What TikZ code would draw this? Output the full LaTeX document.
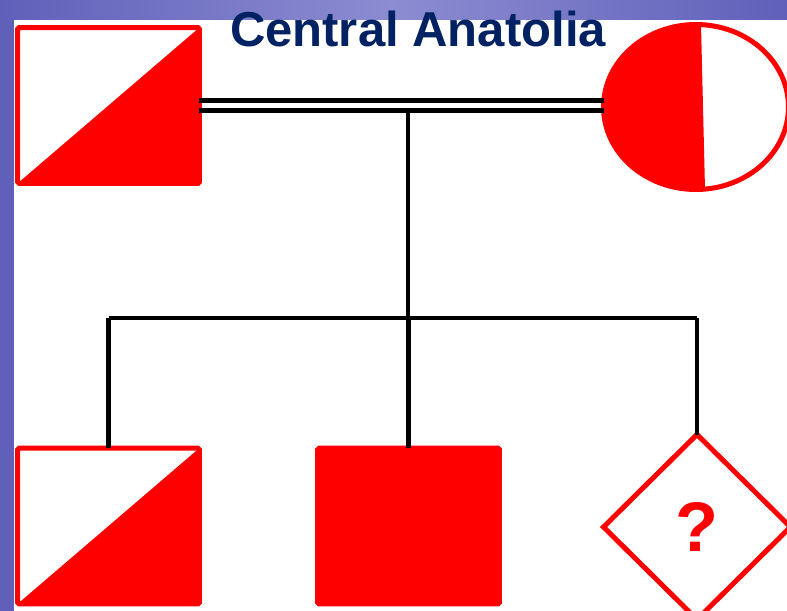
\documentclass[tikz,border=0pt]{standalone}
\usepackage{fontspec}
\setmainfont{Liberation Sans}
\usepackage{tikz}
\usetikzlibrary{shapes.geometric, positioning, calc}
\definecolor{pedred}{RGB}{255, 0, 0}
\definecolor{titlenavy}{RGB}{0, 34, 98}
\definecolor{slideblue}{RGB}{96, 96, 186}
\definecolor{slidelight}{RGB}{140, 140, 210}

\begin{document}
\begin{tikzpicture}[x=0.02cm, y=-0.02cm,
    person/.style={draw=pedred, line width=2.85pt, inner sep=0pt, outer sep=0pt},
    male/.style={person, rectangle, rounded corners=1pt,
                 minimum width=3.64cm, minimum height=3.12cm},
    carrier/.style={path picture={
        \fill[pedred] (path picture bounding box.south west)
          -- (path picture bounding box.north east) |- cycle;}},
    kin/.style={black, line width=2.3pt}]
  \useasboundingbox (0,0) rectangle (787,611);
  % slide background
  \fill[slideblue] (0,0) rectangle (787,611);
  \shade[left color=slideblue, right color=slideblue, middle color=slidelight]
    (0,0) rectangle (787,20);
  \fill[white] (14,20) rectangle (787,611);
  \node[titlenavy, anchor=base, font=\fontsize{27.9pt}{30pt}\selectfont\bfseries]
    (title) at (418,47) {Central Anatolia};

  % parents
  \node[male, carrier] (father) at (108.5,105.5) {};
  \node[person, ellipse, minimum width=3.7cm, minimum height=3.3cm,
        path picture={\fill[pedred] (path picture bounding box.south west)
          -- (path picture bounding box.north west)
          -- ($(path picture bounding box.north)+(5,0)$)
          -- ($(path picture bounding box.south)+(9,0)$) -- cycle;}]
    (mother) at (696,107) {};
  \draw[kin] ([yshift=0.1cm]father.east) -- ([yshift=0.1cm]father.east -| mother.west);
  \draw[kin] ([yshift=-0.1cm]father.east) -- ([yshift=-0.1cm]father.east -| mother.west);

  % children
  \node[male, carrier] (sonA) at (108.5,526) {};
  \node[male, fill=pedred] (sonB) at (408.5,526) {};
  \node[person, diamond, minimum width=3.74cm, minimum height=3.7cm,
        text=pedred, font=\fontsize{40pt}{42pt}\selectfont\bfseries]
    (unknown) at (697,527) {?};

  \coordinate (mate) at (408,110);
  \coordinate (sibs) at (408,318);
  \draw[kin] (mate) -- (sibs);
  \draw[kin] (sonA.north |- sibs) -- (unknown.north |- sibs);
  \foreach \c in {sonA,sonB,unknown}
    \draw[kin] (\c.north |- sibs) -- (\c.north);
\end{tikzpicture}
\end{document}
